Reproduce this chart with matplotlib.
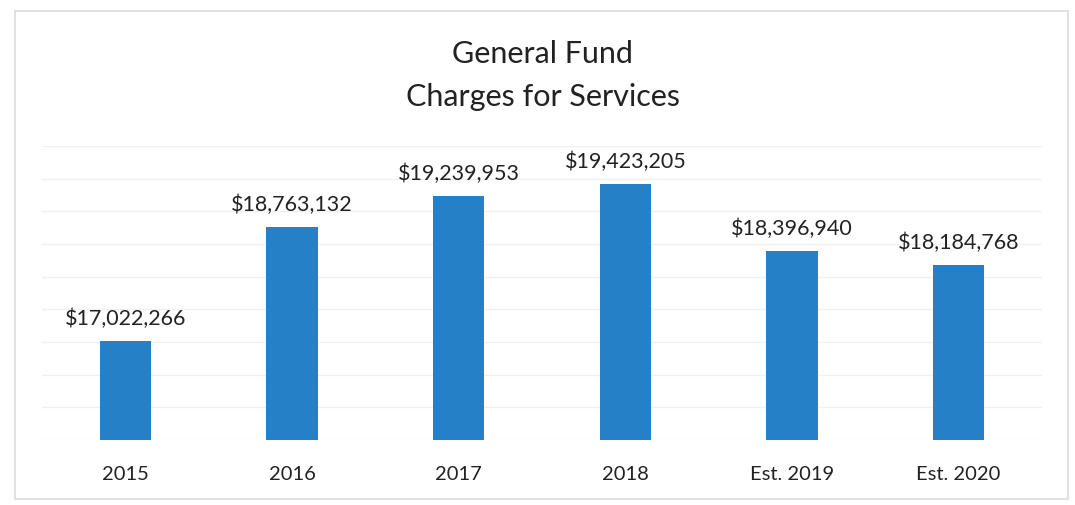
import matplotlib
matplotlib.use("Agg")
import matplotlib.pyplot as plt
from matplotlib.patches import Rectangle
from matplotlib.ticker import MultipleLocator

categories = ["2015", "2016", "2017", "2018", "Est. 2019", "Est. 2020"]
values = [17022266, 18763132, 19239953, 19423205, 18396940, 18184768]

plt.rcParams['font.family'] = ['Lato', 'DejaVu Sans']

fig = plt.figure(figsize=(10.75, 5.06), dpi=100)
fig.patch.set_facecolor("white")

# outer chart border
fig.patches.append(Rectangle((15/1075, 1-500/506), (1068-15)/1075, (500-12)/506,
                             transform=fig.transFigure, fill=False,
                             edgecolor="#dcdcdc", linewidth=1.2))

ax = fig.add_axes([42/1075, 1-441/506, 1000/1075, (441-147)/506])
x = range(len(categories))
ax.bar(x, values, width=0.31, color="#2680c8", zorder=3)
ax.set_ylim(15500000, 20000000)
ax.set_xlim(-0.5, len(categories) - 0.5)
ax.yaxis.set_major_locator(MultipleLocator(500000))
ax.grid(axis="y", color="#f0f0f0", linewidth=1, zorder=0)
ax.set_yticklabels([])
ax.tick_params(axis="y", length=0)
ax.tick_params(axis="x", length=0, pad=18, labelsize=14.5, labelcolor="#222222")
ax.set_xticks(list(x))
ax.set_xticklabels(categories)
for s in ax.spines.values():
    s.set_visible(False)

for xi, v in zip(x, values):
    ax.annotate(f"${v:,.0f}", (xi, v), xytext=(0, 9), textcoords="offset points",
                ha="center", va="bottom", fontsize=15.5, color="#222222")

fig.text(543/1075, 1-54/506, "General Fund", ha="center", va="center",
         fontsize=22, color="#222222")
fig.text(543/1075, 1-97/506, "Charges for Services", ha="center", va="center",
         fontsize=22, color="#222222")

fig.savefig("out.png", dpi=100, facecolor="white")
